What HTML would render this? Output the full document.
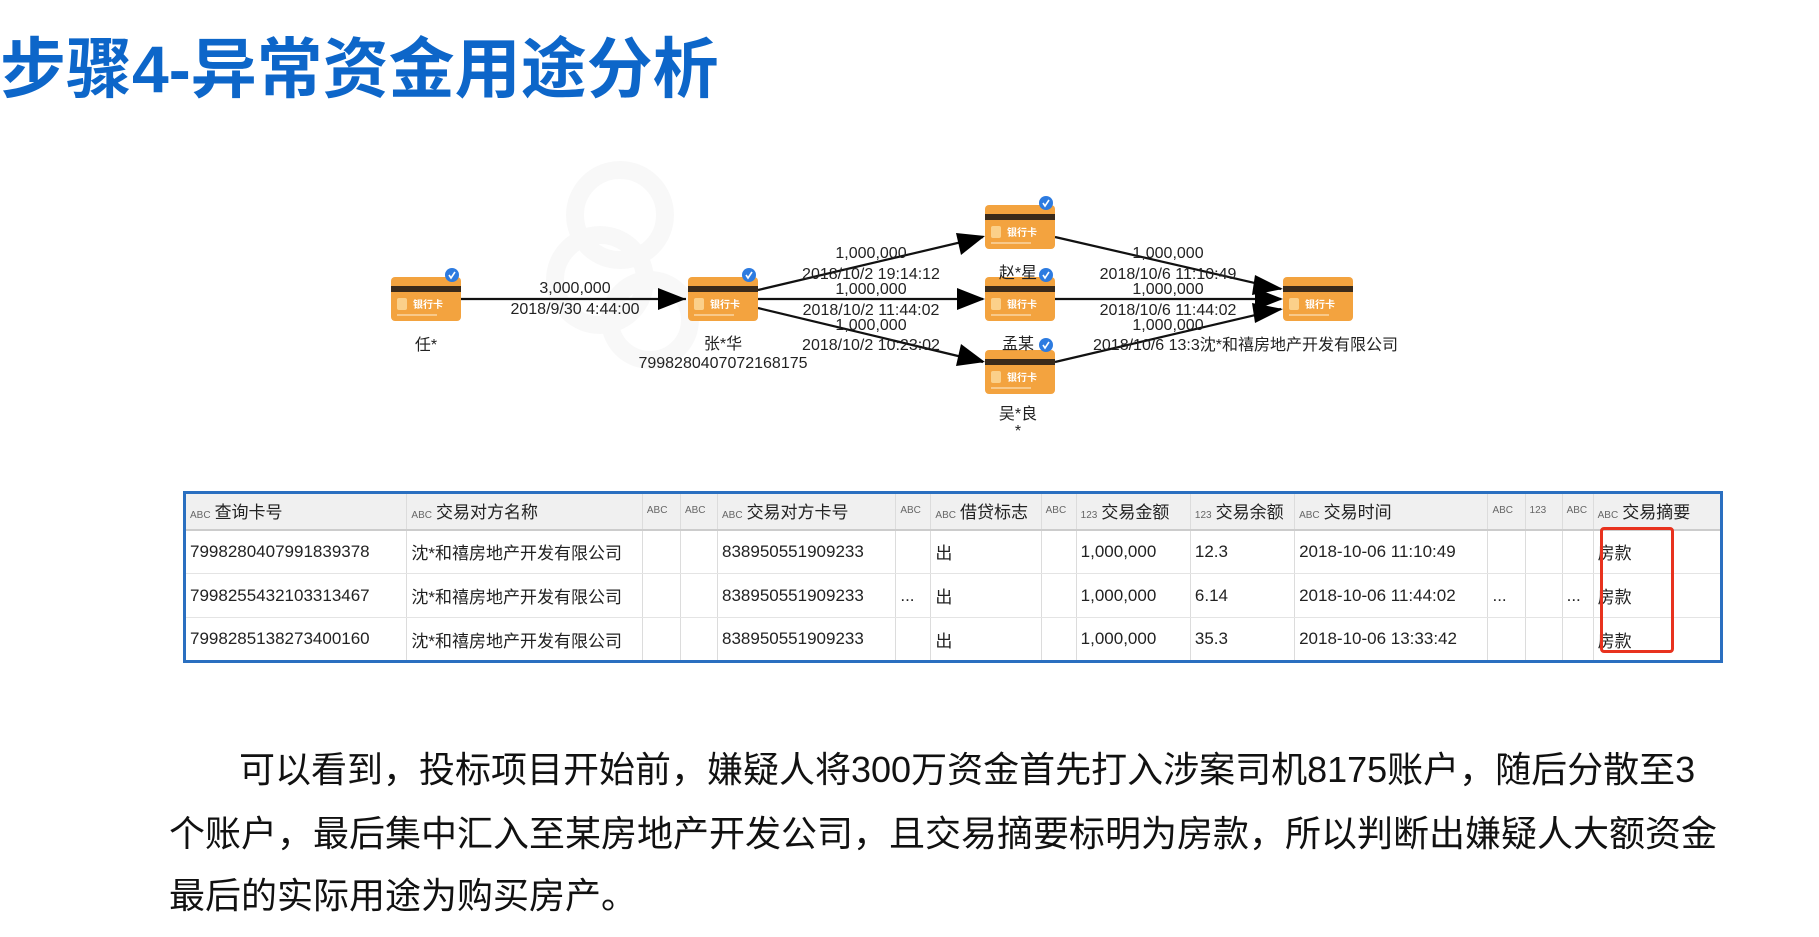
<!DOCTYPE html>
<html><head><meta charset="utf-8"><style>
*{margin:0;padding:0;box-sizing:border-box}
body{width:1819px;height:937px;background:#fff;position:relative;overflow:hidden;font-family:"Liberation Sans","Noto Sans CJK SC",sans-serif}
.t{position:absolute;left:0;top:16px;font-size:66px;font-weight:bold;color:#0d66c9;font-family:"Liberation Sans","Noto Sans CJK SC",sans-serif;white-space:nowrap}
.p{position:absolute;font-size:36px;color:#111;white-space:nowrap;line-height:44px}
table{position:absolute;left:183px;top:491px;border-collapse:collapse;border:3px solid #2a6fc0;font-size:17px;color:#222;table-layout:fixed}
td,th{border-right:1px solid #dcdcdc;white-space:nowrap;overflow:hidden;padding:0 4px;text-align:left;font-weight:normal}
th{height:37px;background:#f0f0f0;font-size:17px;border-bottom:2px solid #ccc;vertical-align:top;padding-top:4px}
td{height:44px;border-bottom:1px solid #e4e4e4;vertical-align:middle}
th i{font-style:normal;font-size:10px;color:#666;margin-right:4px}
</style></head><body>
<div class="t">步骤4-异常资金用途分析</div>

<svg width="1819" height="480" style="position:absolute;left:0;top:0" font-family="Liberation Sans, Noto Sans CJK SC, sans-serif">
<defs>
<g id="card">
<rect x="0" y="0" width="70" height="44" rx="4" fill="#f3a33f"/>
<rect x="0" y="9" width="70" height="6" fill="#3a2a1a"/>
<rect x="6" y="21" width="10" height="12" rx="2" fill="#fbd08a"/>
<text x="22" y="31" font-size="10" fill="#fff" font-weight="bold">银行卡</text>
<rect x="6" y="37" width="40" height="2" fill="#f8c98a"/>
</g>
<g id="chk"><circle r="7" fill="#2d7be0"/><path d="M-3 0 L-1 3 L3 -3" stroke="#fff" stroke-width="1.6" fill="none"/></g>
</defs>
<g opacity="0.025" fill="none" stroke="#000" stroke-width="18"><circle cx="620" cy="215" r="45"/><circle cx="600" cy="280" r="45"/><circle cx="650" cy="320" r="40"/></g>
<g stroke="#111" stroke-width="2.2">
<line x1="461" y1="299" x2="686" y2="299"/>
<line x1="758" y1="290" x2="983" y2="237"/>
<line x1="758" y1="299" x2="983" y2="299"/>
<line x1="758" y1="308" x2="983" y2="362"/>
<line x1="1055" y1="237" x2="1281" y2="289"/>
<line x1="1055" y1="299" x2="1281" y2="299"/>
<line x1="1055" y1="362" x2="1281" y2="309"/>
</g>
<g fill="#000">
<path d="M686 299 L658 288 L658 310z"/>
<path d="M985 236 L956 233 L961 255z"/>
<path d="M985 299 L957 288 L957 310z"/>
<path d="M985 362 L961 344 L956 366z"/>
<path d="M1283 289 L1255 275 L1252 295z"/>
<path d="M1283 299 L1255 288 L1255 310z"/>
<path d="M1283 309 L1252 303 L1255 323z"/>
</g>
<use href="#card" x="391" y="277"/><use href="#chk" x="452" y="275"/>
<use href="#card" x="688" y="277"/><use href="#chk" x="749" y="275"/>
<use href="#card" x="985" y="205"/><use href="#chk" x="1046" y="203"/>
<use href="#card" x="985" y="277"/><use href="#chk" x="1046" y="275"/>
<use href="#card" x="985" y="350"/><use href="#chk" x="1046" y="345"/>
<use href="#card" x="1283" y="277"/>
<g font-size="16" fill="#222" text-anchor="middle">
<text x="426" y="350">任*</text>
<text x="723" y="349">张*华</text>
<text x="723" y="368">7998280407072168175</text>
<text x="1018" y="278">赵*星</text>
<text x="1018" y="349">孟某</text>
<text x="1018" y="419">吴*良</text>
<text x="1018" y="436">*</text>
<text x="575" y="293">3,000,000</text>
<text x="575" y="314">2018/9/30 4:44:00</text>
<text x="871" y="258">1,000,000</text>
<text x="871" y="279">2018/10/2 19:14:12</text>
<text x="871" y="294">1,000,000</text>
<text x="871" y="315">2018/10/2 11:44:02</text>
<text x="871" y="330">1,000,000</text>
<text x="871" y="350">2018/10/2 10:23:02</text>
<text x="1168" y="258">1,000,000</text>
<text x="1168" y="279">2018/10/6 11:10:49</text>
<text x="1168" y="294">1,000,000</text>
<text x="1168" y="315">2018/10/6 11:44:02</text>
<text x="1168" y="330">1,000,000</text>
<text x="1093" y="350" text-anchor="start">2018/10/6 13:3沈*和禧房地产开发有限公司</text>
</g>
</svg>

<table style="width:1540px">
<colgroup><col style="width:222px"><col style="width:235px"><col style="width:38px"><col style="width:37px"><col style="width:178px"><col style="width:35px"><col style="width:110px"><col style="width:35px"><col style="width:114px"><col style="width:104px"><col style="width:193px"><col style="width:37px"><col style="width:37px"><col style="width:31px"><col style="width:128px"></colgroup>
<tr><th><i>ABC</i>查询卡号</th><th><i>ABC</i>交易对方名称</th><th><i>ABC</i></th><th><i>ABC</i></th><th><i>ABC</i>交易对方卡号</th><th><i>ABC</i></th><th><i>ABC</i>借贷标志</th><th><i>ABC</i></th><th><i>123</i>交易金额</th><th><i>123</i>交易余额</th><th><i>ABC</i>交易时间</th><th><i>ABC</i></th><th><i>123</i></th><th><i>ABC</i></th><th><i>ABC</i>交易摘要</th></tr>
<tr><td>7998280407991839378</td><td>沈*和禧房地产开发有限公司</td><td></td><td></td><td>838950551909233</td><td></td><td>出</td><td></td><td>1,000,000</td><td>12.3</td><td>2018-10-06 11:10:49</td><td></td><td></td><td></td><td>房款</td></tr>
<tr><td>7998255432103313467</td><td>沈*和禧房地产开发有限公司</td><td></td><td></td><td>838950551909233</td><td>...</td><td>出</td><td></td><td>1,000,000</td><td>6.14</td><td>2018-10-06 11:44:02</td><td>...</td><td></td><td>...</td><td>房款</td></tr>
<tr><td>7998285138273400160</td><td>沈*和禧房地产开发有限公司</td><td></td><td></td><td>838950551909233</td><td></td><td>出</td><td></td><td>1,000,000</td><td>35.3</td><td>2018-10-06 13:33:42</td><td></td><td></td><td></td><td>房款</td></tr>
</table>
<div style="position:absolute;left:1600px;top:527px;width:74px;height:126px;border:3px solid #e8321e;border-radius:4px"></div>

<div class="p" style="left:239px;top:748px">可以看到，投标项目开始前，嫌疑人将300万资金首先打入涉案司机8175账户，随后分散至3</div>
<div class="p" style="left:169px;top:812px">个账户，最后集中汇入至某房地产开发公司，且交易摘要标明为房款，所以判断出嫌疑人大额资金</div>
<div class="p" style="left:169px;top:874px">最后的实际用途为购买房产。</div>
</body></html>
